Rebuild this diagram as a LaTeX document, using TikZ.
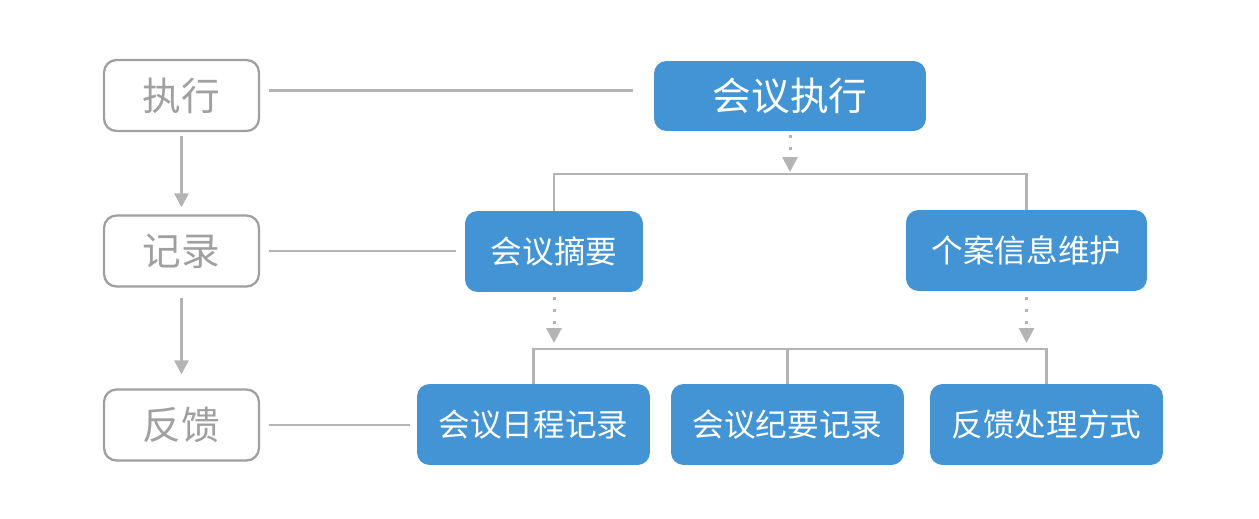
\documentclass[tikz,border=0pt]{standalone}
\usepackage{fontspec}
\setmainfont{Noto Sans CJK SC}
\usepackage{xcolor}
\usetikzlibrary{arrows.meta}
\usetikzlibrary{positioning,calc}

\definecolor{boxblue}{HTML}{4394D5}
\definecolor{linegray}{HTML}{B4B4B4}
\definecolor{stagegray}{HTML}{A0A0A0}

\begin{document}
\begin{tikzpicture}[x=0.02cm, y=-0.02cm,
	stage/.style={draw=stagegray, line width=1.3pt, rounded corners=0.25cm,
		minimum width=3.1cm, minimum height=1.42cm, inner sep=0pt,
		text=stagegray, font=\fontsize{22}{26}\selectfont},
	task/.style={fill=boxblue, rounded corners=0.25cm, minimum height=1.62cm,
		inner sep=0pt, text=white, font=\fontsize{18}{22}\selectfont},
	link/.style={draw=linegray, line width=1.7pt},
	flow/.style={link, -{Triangle[width=0.28cm, length=0.28cm]}},
	dotflow/.style={draw=linegray, line width=0.06cm,
		dash pattern=on 0.06cm off 0.18cm,
		-{Triangle[width=0.3cm, length=0.3cm]}}]
\useasboundingbox (0,0) rectangle (1259,518);

% The three stages on the left, joined from top to bottom
\node[stage] (exec) at (181.5,95.5) {执行};
\node[stage] (rec) at (181.5,251) {记录};
\node[stage] (fb) at (181.5,425) {反馈};
\draw[flow, shorten <=0.08cm, shorten >=0.14cm] (exec) -- (rec);
\draw[flow, shorten <=0.2cm, shorten >=0.28cm] (rec) -- (fb);

% The blue tasks of each stage
\node[task, minimum width=5.44cm, minimum height=1.4cm,
	font=\fontsize{22}{26}\selectfont] (meet) at (790,96) {会议执行};
\node[task, minimum width=3.56cm] (summ) at (554,251.5) {会议摘要};
\node[task, minimum width=4.82cm] (case) at (1026.5,250.5) {个案信息维护};
\node[task, minimum width=4.66cm] (sched) at (533.5,424.5) {会议日程记录};
\node[task, minimum width=4.66cm] (mins) at (787.5,424.5) {会议纪要记录};
\node[task, minimum width=4.66cm] (fbway) at (1046.5,424.5) {反馈处理方式};

% Each stage points to its row of tasks
\draw[link, shorten <=0.18cm, shorten >=0.42cm] ([yshift=0.1cm]exec.east) -- ([yshift=0.1cm]exec.east -| meet.west);
\draw[link, shorten <=0.18cm, shorten >=0.18cm] (rec.east) -- (rec.east -| summ.west);
\draw[link, shorten <=0.18cm, shorten >=0.14cm] (fb.east) -- (fb.east -| sched.west);

% Brackets between the rows
\coordinate (top) at (790,174);
\coordinate (mid) at (787.5,349);
\coordinate (midl) at (554,349);
\coordinate (midr) at (1026.5,349);
\draw[link] (summ.north) |- (top) -| (case.north);
\draw[link] (sched.north) |- (mid) -| (fbway.north);
\draw[link] (mins.north) -- (mid);

% Dotted arrows down onto the brackets
\draw[dotflow, shorten <=0.08cm, shorten >=0.04cm] (meet.south) -- (top);
\draw[dotflow, shorten <=0.1cm, shorten >=0.12cm] (summ.south) -- (midl);
\draw[dotflow, shorten <=0.12cm, shorten >=0.12cm] (case.south) -- (midr);
\end{tikzpicture}
\end{document}
